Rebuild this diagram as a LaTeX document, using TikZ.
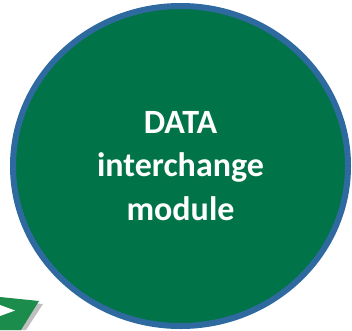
\documentclass[tikz,border=0pt]{standalone}
\usepackage{fontspec}
\setmainfont{Carlito}
\usetikzlibrary{shapes.geometric}
\definecolor{modgreen}{RGB}{0,116,72}
\definecolor{modblue}{RGB}{46,106,160}
\definecolor{arrgreen}{RGB}{28,140,76}
\tikzset{
  module/.style={ellipse, draw=modblue, fill=modgreen, line width=6pt,
    minimum width=335pt, minimum height=320pt, inner sep=0pt,
    text=white, align=center,
    font=\fontsize{34}{43.5}\selectfont\bfseries},
  arrowbody/.style={fill=arrgreen},
  arrowshadow/.style={fill=black, opacity=0.25}
}
\begin{document}
\begin{tikzpicture}[x=1pt,y=-1pt]
\useasboundingbox (0,0) rectangle (352,330);
\begin{scope}
\clip (0,0) rectangle (352,330);
% arrow shadow
\fill[arrowshadow] (0,300) -- (43,304) -- (26,330) -- (0,330) -- cycle;
% arrow (partly visible)
\fill[arrowbody] (0,297) -- (39,301) -- (21,330) -- (0,330) -- cycle;
\fill[white] (0,305) -- (15,310.5) -- (0,316) -- cycle;
\end{scope}
\node[module] (m) at (180.5,166) {DATA\\interchange\\module};
\end{tikzpicture}
\end{document}
